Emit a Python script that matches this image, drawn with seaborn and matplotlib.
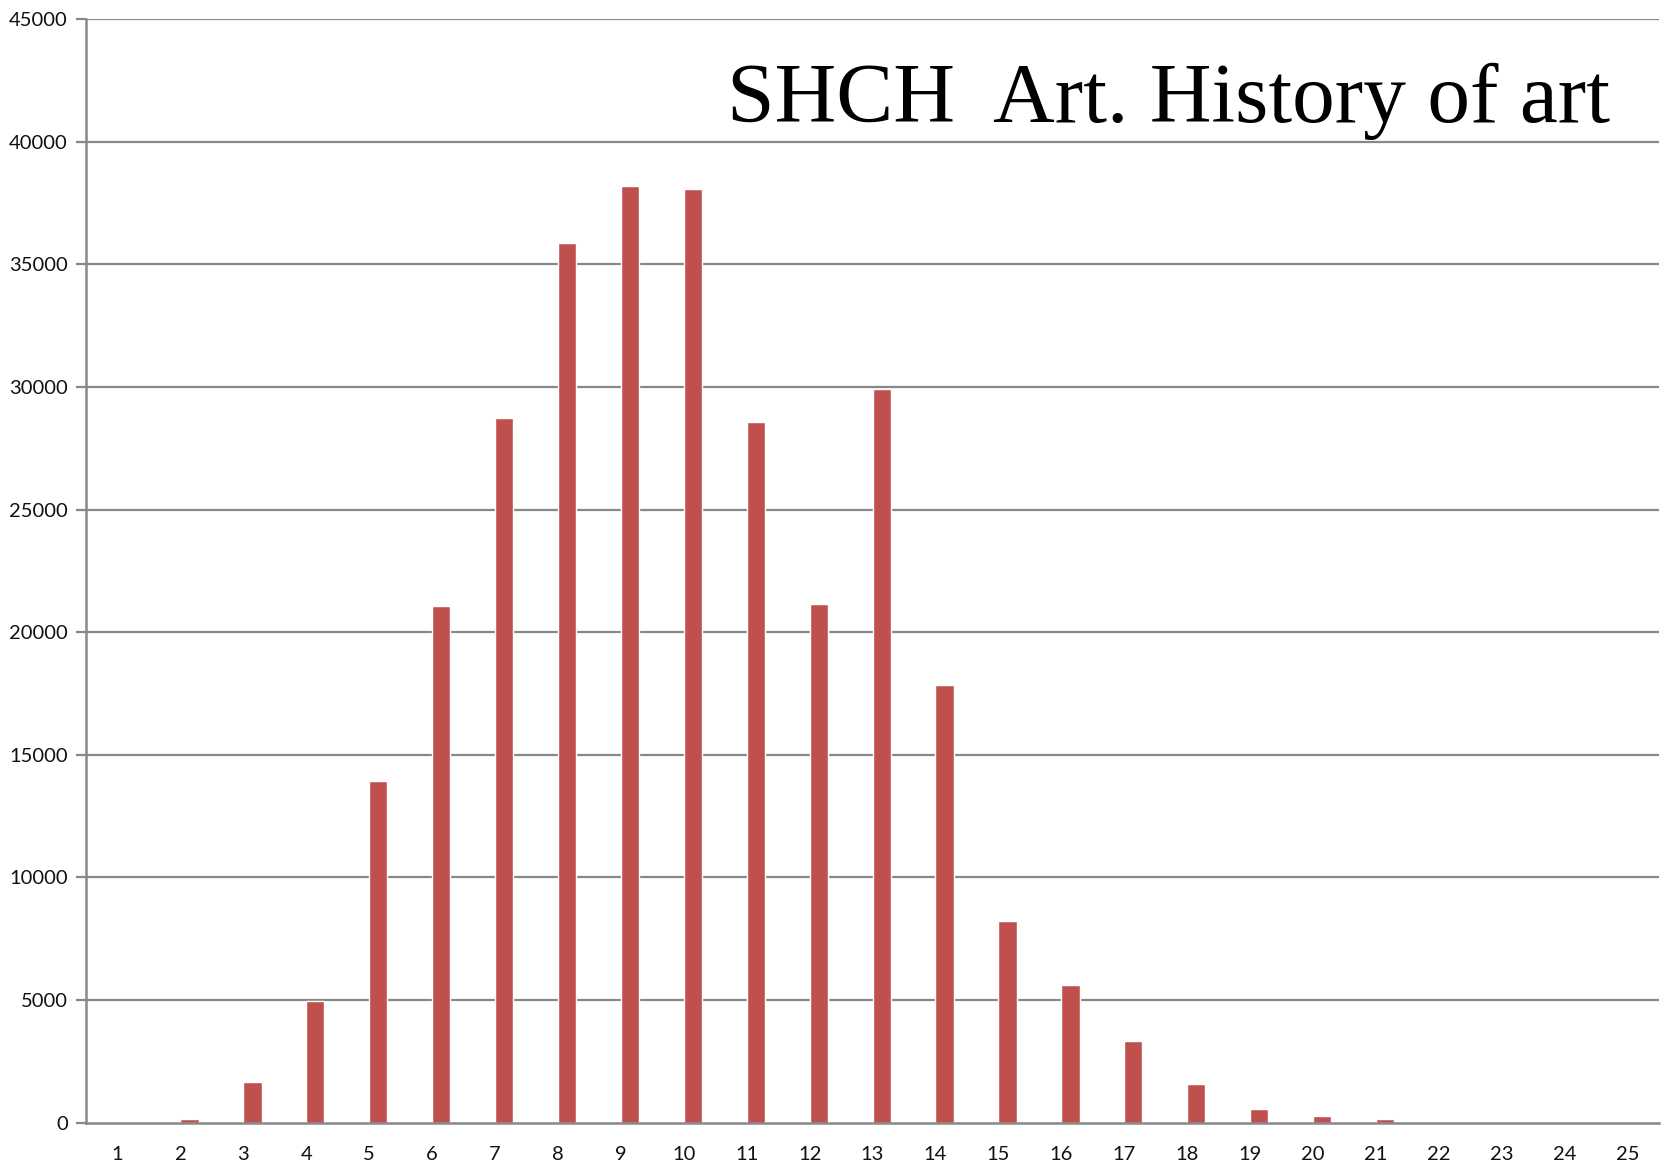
import matplotlib
matplotlib.use("Agg")
import matplotlib.pyplot as plt
import seaborn as sns
import pandas as pd
import numpy as np

categories = [str(i) for i in range(1, 26)]
values = [0, 150, 1670, 4980, 13920, 21060, 28750, 35880, 38200, 38080,
          28560, 21140, 29920, 17860, 8220, 5620, 3320, 1590, 560, 260,
          150, 0, 0, 0, 0]
y_ticks = list(range(0, 45001, 5000))
title = "SHCH  Art. History of art"

sns.set_theme(style="white")
plt.rcParams['font.family'] = ['Lato', 'DejaVu Sans']

# Excel-style clustered layout: an empty first series, the data is the second one
df = pd.concat([
    pd.DataFrame({"cat": categories, "val": [np.nan] * len(categories), "series": "empty"}),
    pd.DataFrame({"cat": categories, "val": values, "series": "data"}),
], ignore_index=True)

fig = plt.figure(figsize=(16.63, 11.65), dpi=100)
ax = fig.add_axes([86/1663, 1 - 1122.7/1165, (1659-86)/1663, (1122.7-19)/1165])

sns.barplot(data=df, x="cat", y="val", hue="series", hue_order=["empty", "data"],
            palette={"empty": "#C0504D", "data": "#C0504D"}, saturation=1,
            width=0.58, dodge=True, gap=0, ax=ax, order=categories, legend=False)

grid_c = "#888888"
ax.set_ylim(0, 45000)
ax.set_xlim(-0.5, len(categories) - 0.5)
ax.set_yticks(y_ticks)
ax.set_yticklabels([str(t) for t in y_ticks])
for t in y_ticks[1:]:
    ax.axhline(t, color=grid_c, lw=1.6, zorder=0)

ax.set_xticks(np.arange(len(categories)))
ax.set_xticklabels(categories)
ax.set_xticks(np.arange(len(categories) + 1) - 0.5, minor=True)
ax.tick_params(axis="x", which="major", length=0, pad=17, labelsize=14.5, colors="#111111")
ax.tick_params(axis="x", which="minor", length=7, width=1.6, color=grid_c, direction="out")
ax.tick_params(axis="y", length=7, width=1.6, color=grid_c, direction="out", pad=6,
               labelsize=14.5, labelcolor="#111111", left=True)

for s in ["top", "right"]:
    ax.spines[s].set_visible(False)
for s in ["left", "bottom"]:
    ax.spines[s].set_color(grid_c)
    ax.spines[s].set_linewidth(1.8)

ax.set_xlabel("")
ax.set_ylabel("")

fig.text(1610/1663, 1 - 122/1165, title, ha="right", va="baseline",
         fontsize=61.5, family=["Liberation Serif", "DejaVu Serif"], color="black")

fig.savefig("out.png", dpi=100, facecolor="white")
